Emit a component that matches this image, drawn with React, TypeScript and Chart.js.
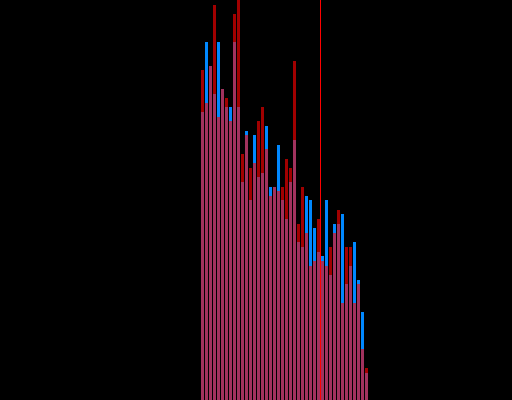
import React, { useEffect, useRef } from "react";
import { Chart, registerables } from "chart.js";

Chart.register(...registerables);

const categories: string[] = Array.from({ length: 42 }, (_, i) => String(i + 1));

const redSeries: number[] = [
  82.5, 74.25, 83.5, 98.75, 70.75, 77.75, 75.5, 69.75, 96.5, 102, 61.5, 66.25, 58, 59.25,
  69.75, 73.25, 62.75, 51, 53.25, 52.25, 53.25, 60.25, 58, 84.75, 44, 53.25, 41.75, 33.5,
  34.75, 45.25, 34.75, 33.5, 38.25, 41.75, 47.5, 24.25, 38.25, 38.25, 24.25, 29, 12.75, 8,
];

const blueSeries: number[] = [
  72, 89.5, 83.5, 76.5, 89.5, 77.75, 73.25, 73.25, 89.5, 73.25, 54.5, 67.25, 50, 66.25,
  55.75, 56.75, 68.5, 53.25, 53.25, 63.75, 50, 45.25, 54.5, 65, 39.5, 38.25, 51, 50, 43,
  37, 36, 50, 31.25, 44, 44, 46.5, 29, 33.5, 39.5, 30, 22, 6.75,
];

const markerPosition = 29.5;
const yMin = 0;
const yMax = 100;

export default function App() {
  const canvasRef = useRef<HTMLCanvasElement | null>(null);

  useEffect(() => {
    if (!canvasRef.current) return;
    const chart = new Chart(canvasRef.current, {
      type: "bar",
      data: {
        labels: categories,
        datasets: [
          {
            type: "line",
            label: "marker",
            xAxisID: "xl",
            data: [
              { x: markerPosition, y: yMin },
              { x: markerPosition, y: yMax },
            ],
            borderColor: "#ff0000",
            borderWidth: 1,
            pointRadius: 0,
            order: 0,
          } as any,
          {
            label: "red",
            data: redSeries,
            backgroundColor: "rgba(255,0,0,0.63)",
            borderWidth: 0,
            grouped: false,
            barPercentage: 1,
            categoryPercentage: 0.75,
            order: 1,
          },
          {
            label: "blue",
            data: blueSeries,
            backgroundColor: "rgb(0,136,255)",
            borderWidth: 0,
            grouped: false,
            barPercentage: 1,
            categoryPercentage: 0.75,
            order: 2,
          },
        ],
      },
      options: {
        responsive: false,
        animation: false,
        layout: { padding: { left: 200.5, right: 143.5, top: 0, bottom: 0 } },
        plugins: { legend: { display: false }, tooltip: { enabled: false } },
        scales: {
          x: { display: false, offset: true },
          xl: {
            type: "linear",
            display: false,
            offset: false,
            bounds: "data",
            min: -0.5,
            max: categories.length - 0.5,
          },
          y: { display: false, min: yMin, max: yMax },
        },
      },
    });
    return () => chart.destroy();
  }, []);

  return (
    <div style={{ position: "fixed", left: 0, top: 0, width: 512, height: 400, background: "#000" }}>
      <canvas ref={canvasRef} width={512} height={400} style={{ display: "block" }} />
    </div>
  );
}
